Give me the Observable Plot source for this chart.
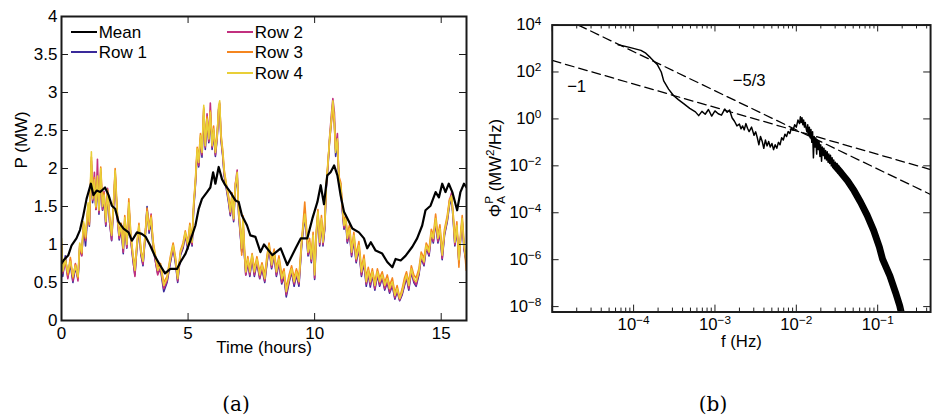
<!DOCTYPE html>
<html><head><meta charset="utf-8">
<script src="https://cdn.jsdelivr.net/npm/d3@7"></script>
<script src="https://cdn.jsdelivr.net/npm/@observablehq/plot@0.6"></script>
<style>
html,body{margin:0;padding:0;background:#fff;overflow:hidden}
#fig{position:relative;width:935px;height:416px;overflow:hidden;font-family:"Liberation Sans",Arial,sans-serif;color:#000}
#a{position:absolute;left:0;top:0}
#b{position:absolute;left:480px;top:0}
.cap{position:absolute;font-family:"DejaVu Serif",serif;font-size:20px;transform:translate(-50%,-50%);white-space:nowrap}
.lg{position:absolute;height:2px;width:26px}
.lt{position:absolute;font-size:17px;line-height:17px;transform:translateY(-50%);white-space:nowrap}
</style></head>
<body><div id="fig"><div id="a"></div><div id="b"></div></div>
<script>
// ---------- Panel (a) data ----------
const hoursTicks = [0, 5, 10, 15];
const powerTicks = [0, 0.5, 1, 1.5, 2, 2.5, 3, 3.5, 4];
const seriesNames = ["Row 1", "Row 2", "Row 3", "Row 4"];
const seriesColors = ["#3a2a9a", "#c2307f", "#f5861f", "#e9cf38"];
const meanName = "Mean";

const time = [
 0,0.05,0.15,0.25,0.35,0.45,0.55,0.65,0.72,0.8, 0.87,0.95,1.05,1.1,1.18,1.23,1.3,1.36,1.42,1.48,
 1.55,1.62,1.68,1.75,1.82,1.9,1.98,2.05,2.12,2.2, 2.28,2.36,2.44,2.5,2.58,2.66,2.74,2.82,2.9,2.98,
 3.06,3.14,3.22,3.3,3.38,3.46,3.54,3.62,3.7,3.8,
 3.91,4.04,4.17,4.30,4.41,4.50,4.59,4.70,4.80,4.89, 4.99,5.07,5.16,5.22,5.29,5.36,5.42,5.49,5.55,5.62,
 5.68,5.75,5.82,5.88,5.95,6.01,6.08,6.15,6.21,6.25, 6.30,6.37,6.43,6.51,6.60,6.67,6.74,6.80,6.87,6.94,
 7.00,7.07,7.12,7.17,7.23,7.28,7.36,7.44,7.53,7.62, 7.72,7.83,7.92,
 8.03,8.12,8.20,8.30,8.40,8.49,8.59,8.70,8.79,8.88, 8.99,9.09,9.19,9.28,9.38,9.48,9.54,9.61,9.67,9.74,
 9.80,9.87,9.94,10.00,10.07,10.13,10.20,10.27,10.33,10.40, 10.46,10.53,10.59,10.66,10.72,10.78,10.83,10.90,10.96,11.03,
 11.09,11.16,11.23,11.29,11.38,11.46,11.55,11.64,11.75,11.85,
 11.95,12.04,12.12,12.20,12.28,12.38,12.48,12.57,12.67,12.77, 12.87,12.96,13.07,13.17,13.26,13.36,13.46,13.55,13.63,13.72,
 13.82,13.92,14.01,14.12,14.21,14.32,14.41,14.52,14.61,14.69, 14.78,14.87,14.95,15.04,15.13,15.24,15.33,15.41,15.48,15.54,
 15.62,15.70,15.77,15.83,15.90,15.99
];
const row1 = [
 0.95,0.58,0.85,0.57,0.74,0.50,0.70,0.55,0.95,0.86, 1.22,0.98,1.48,1.24,2.05,1.55,1.80,1.46,1.84,1.40,
 1.92,1.45,1.60,1.24,1.66,1.30,1.05,1.46,1.90,1.38, 1.06,1.20,0.88,1.30,0.95,1.50,1.06,0.80,0.60,0.96,
 1.20,0.86,0.72,1.06,1.50,1.15,1.30,0.95,0.80,0.62,
 0.68,0.38,0.50,0.76,0.95,0.76,0.50,0.86,0.95,1.12, 0.94,1.20,0.98,1.46,1.78,2.20,2.02,2.38,2.15,2.70,
 2.25,2.60,2.34,2.68,2.25,2.48,2.16,2.40,2.78,2.80, 2.38,2.16,1.90,1.74,1.55,1.38,1.60,1.30,1.74,1.90,
 1.38,1.10,0.90,1.28,0.85,0.60,0.76,0.58,0.82,0.58, 0.76,0.55,0.68,
 0.50,0.76,0.95,0.68,0.86,0.58,0.76,0.48,0.58,0.31, 0.50,0.64,0.45,0.60,0.45,0.95,1.16,1.36,1.16,0.85,
 0.98,0.76,1.08,0.54,1.12,1.40,0.98,1.30,0.98,1.20, 1.74,2.04,2.36,2.62,2.86,2.60,2.16,2.34,1.82,1.74,
 1.46,1.20,1.30,1.02,1.16,0.84,1.06,0.76,0.94,0.58,
 0.76,0.45,0.62,0.44,0.60,0.40,0.60,0.45,0.56,0.40, 0.50,0.36,0.46,0.28,0.38,0.26,0.34,0.46,0.56,0.40,
 0.64,0.50,0.45,0.60,0.82,0.72,0.95,0.85,1.12,1.02, 1.30,1.02,1.16,0.80,1.12,1.30,1.52,1.60,1.30,0.98,
 1.20,0.76,1.08,1.30,0.94,0.76
];
const row2 = [
 1.00,0.62,0.78,0.55,0.80,0.52,0.75,0.52,0.98,0.85, 1.26,1.05,1.50,1.28,2.10,1.58,1.95,1.46,2.12,1.42,
 1.95,1.46,1.70,1.26,1.74,1.30,1.06,1.48,1.95,1.36, 1.08,1.22,0.90,1.32,0.96,1.52,1.04,0.82,0.58,0.98,
 1.22,0.88,0.74,1.08,1.46,1.18,1.40,0.98,0.80,0.60,
 0.70,0.42,0.52,0.78,0.97,0.78,0.52,0.88,0.97,1.14, 0.96,1.22,1.00,1.48,1.80,2.22,2.04,2.40,2.18,2.78,
 2.28,2.72,2.36,2.86,2.28,2.50,2.18,2.42,2.80,2.86, 2.40,2.18,1.92,1.76,1.58,1.40,1.62,1.32,1.80,1.98,
 1.40,1.12,0.92,1.30,0.86,0.60,0.78,0.60,0.84,0.60, 0.78,0.56,0.70,
 0.52,0.78,0.97,0.70,0.88,0.60,0.78,0.50,0.60,0.34, 0.52,0.66,0.48,0.62,0.48,0.97,1.20,1.42,1.18,0.87,
 1.00,0.78,1.10,0.56,1.14,1.42,1.00,1.32,1.00,1.22, 1.76,2.06,2.40,2.70,2.92,2.74,2.26,2.46,1.84,1.80,
 1.48,1.22,1.36,1.04,1.18,0.86,1.08,0.78,0.96,0.60,
 0.78,0.48,0.63,0.47,0.62,0.42,0.62,0.47,0.58,0.42, 0.52,0.38,0.48,0.30,0.40,0.27,0.36,0.48,0.58,0.42,
 0.66,0.52,0.47,0.62,0.84,0.74,0.97,0.87,1.14,1.04, 1.32,1.04,1.18,0.82,1.14,1.32,1.58,1.68,1.32,1.00,
 1.22,0.78,1.10,1.32,0.96,0.78
];
const row3 = [
 1.02,0.66,0.82,0.60,0.83,0.56,0.74,0.56,1.00,0.88, 1.28,1.08,1.52,1.26,2.15,1.62,1.88,1.48,1.86,1.50,
 2.02,1.55,1.68,1.34,1.72,1.38,1.14,1.52,2.00,1.45, 1.15,1.28,0.98,1.38,1.04,1.60,1.12,0.88,0.70,1.02,
 1.28,0.92,0.80,1.12,1.48,1.22,1.38,1.04,0.88,0.70,
 0.75,0.50,0.58,0.84,1.02,0.84,0.58,0.92,1.02,1.18, 1.02,1.28,1.06,1.54,1.85,2.28,2.12,2.46,2.24,2.80,
 2.34,2.68,2.42,2.76,2.34,2.56,2.24,2.46,2.78,2.84, 2.46,2.24,1.98,1.80,1.64,1.46,1.68,1.38,1.80,1.90,
 1.46,1.20,0.86,1.38,0.94,0.68,0.84,0.68,0.88,0.68, 0.84,0.64,0.76,
 0.60,0.86,1.02,0.78,0.94,0.68,0.85,0.60,0.68,0.42, 0.60,0.72,0.56,0.68,0.56,1.04,1.26,1.56,1.26,0.94,
 1.08,0.86,1.16,0.64,1.20,1.46,1.08,1.38,1.08,1.30, 1.80,2.10,2.36,2.60,2.80,2.58,2.24,2.36,1.90,1.82,
 1.56,1.30,1.38,1.12,1.26,0.94,1.16,0.86,1.04,0.68,
 0.86,0.56,0.70,0.56,0.68,0.50,0.68,0.56,0.64,0.50, 0.60,0.46,0.56,0.36,0.46,0.30,0.42,0.56,0.64,0.50,
 0.72,0.60,0.56,0.68,0.90,0.82,1.02,0.94,1.20,1.12, 1.40,1.12,1.26,0.90,1.20,1.38,1.60,1.62,1.38,1.08,
 1.30,0.70,1.16,1.38,1.04,0.66
];
const row4 = [
 1.08,0.65,0.80,0.63,0.78,0.58,0.72,0.58,1.02,0.90, 1.30,1.10,1.55,1.30,2.22,1.60,1.85,1.50,1.90,1.45,
 2.00,1.50,1.65,1.30,1.70,1.35,1.12,1.50,1.97,1.40, 1.12,1.25,0.95,1.35,1.00,1.55,1.10,0.86,0.66,1.00,
 1.25,0.90,0.78,1.10,1.43,1.20,1.35,1.00,0.85,0.66,
 0.73,0.46,0.55,0.81,0.99,0.81,0.55,0.90,0.99,1.16, 0.99,1.25,1.03,1.51,1.82,2.26,2.08,2.43,2.21,2.83,
 2.30,2.65,2.39,2.74,2.30,2.52,2.21,2.43,2.83,2.89, 2.43,2.21,1.95,1.78,1.60,1.43,1.65,1.34,1.78,1.95,
 1.43,1.16,0.95,1.34,0.90,0.64,0.81,0.64,0.86,0.64, 0.81,0.60,0.73,
 0.55,0.81,0.99,0.73,0.90,0.64,0.81,0.55,0.64,0.38, 0.55,0.68,0.51,0.64,0.51,0.99,1.21,1.40,1.21,0.90,
 1.03,0.81,1.12,0.60,1.16,1.43,1.03,1.34,1.03,1.25, 1.78,2.08,2.39,2.65,2.89,2.65,2.21,2.39,1.86,1.78,
 1.51,1.25,1.34,1.08,1.21,0.90,1.12,0.81,0.99,0.64,
 0.81,0.51,0.66,0.51,0.64,0.46,0.64,0.51,0.60,0.46, 0.55,0.42,0.51,0.33,0.42,0.29,0.38,0.51,0.60,0.46,
 0.68,0.55,0.51,0.64,0.86,0.77,0.99,0.90,1.16,1.08, 1.34,1.08,1.21,0.86,1.16,1.34,1.56,1.64,1.34,1.03,
 1.25,0.80,1.12,1.34,0.99,0.81
];
const meanTime = [
 0,0.1,0.27,0.40,0.59,0.73,0.86,0.99,1.16,1.26, 1.39,1.53,1.72,1.86,1.99,2.12,2.25,2.45,2.65,2.78,
 2.98,3.17,3.33,3.50,3.70,3.89,4.09,4.30,4.57,4.70, 4.90,5.09,5.29,5.42,5.55,5.75,5.88,5.99,6.08,6.21,
 6.34,6.47,6.67,6.87,7.00,7.13,7.33,7.46,7.66,7.86, 8.0,8.33,8.66,8.92,9.25,9.45,9.71,9.91,10.11,10.24,
 10.37,10.50,10.63,10.77,10.90,11.03,11.16,11.36,11.49,11.75, 11.95,12.08,12.22,12.41,12.67,12.87,13.07,13.20,13.40,13.59,
 13.86,14.05,14.25,14.38,14.58,14.78,14.91,15.04,15.17,15.30, 15.44,15.63,15.76,15.90,16.0
];
const meanPower = [
 0.75,0.80,0.86,0.99,1.08,1.19,1.38,1.60,1.80,1.65, 1.71,1.69,1.75,1.65,1.51,1.47,1.30,1.21,1.16,1.05,
 1.16,1.14,1.10,0.99,0.84,0.73,0.62,0.68,0.68,0.77, 0.88,1.05,1.25,1.47,1.60,1.69,1.75,1.95,1.80,2.02,
 1.86,1.78,1.69,1.58,1.56,1.38,1.25,1.12,1.10,0.90, 1.0,0.86,0.95,0.73,0.95,1.08,1.08,1.34,1.56,1.78,
 1.53,1.91,1.95,2.04,1.91,1.64,1.43,1.30,1.21,1.16, 1.08,0.95,1.03,0.92,0.88,0.77,0.70,0.81,0.79,0.85,
 0.97,1.08,1.25,1.45,1.51,1.69,1.62,1.80,1.69,1.80, 1.69,1.45,1.69,1.80,1.75
];

// ---------- Panel (b) data (log10 f, log10 PSD) ----------
const freqTickExps = [-4, -3, -2, -1];
const psdTickExps = [-8, -6, -4, -2, 0, 2, 4];
const spectrum = [
 [-4.19,3.16],[-4.05,3.05],[-3.91,2.92],[-3.85,2.80],[-3.79,2.60],[-3.71,2.32],[-3.66,2.00],[-3.63,1.62],[-3.57,1.27],[-3.51,1.00],
 [-3.45,0.82],[-3.385,0.65],[-3.31,0.45],[-3.24,0.30],[-3.20,0.14],[-3.16,0.32],[-3.12,0.20],[-3.08,0.40],[-3.04,0.12],[-3.00,0.34],
 [-2.96,0.22],[-2.92,0.16],[-2.88,0.42],[-2.85,0.28],[-2.82,0.38],[-2.79,0.05],[-2.76,-0.10],[-2.73,-0.30],[-2.70,-0.22],[-2.68,-0.42],
 [-2.66,-0.30],[-2.64,-0.47],[-2.62,-0.20],[-2.60,-0.40],[-2.58,-0.54],[-2.55,-0.35],[-2.52,-0.70],[-2.50,-0.55],[-2.48,-0.80],[-2.46,-1.10],
 [-2.44,-0.75],[-2.42,-0.95],[-2.40,-1.25],[-2.38,-0.90],[-2.36,-1.15],[-2.34,-0.96],[-2.32,-1.20],[-2.30,-1.05],[-2.28,-1.31],[-2.26,-1.10],
 [-2.24,-1.25],[-2.22,-1.00],[-2.20,-1.10],[-2.18,-0.80],[-2.16,-0.90],[-2.14,-0.65],[-2.12,-0.75],[-2.10,-0.54],[-2.08,-0.62],[-2.06,-0.40],
 [-2.04,-0.48],[-2.02,-0.25],[-2.00,-0.35],[-1.98,-0.05],[-1.96,-0.20],[-1.95,0.09],[-1.94,-0.15],[-1.93,0.05],[-1.92,-0.25],[-1.91,-0.05],
 [-1.90,-0.35],[-1.89,-0.15],[-1.88,-0.40],[-1.87,-0.55],[-1.86,-0.25],[-1.85,-0.70],[-1.84,-0.35],[-1.83,-0.80],[-1.82,-0.45],[-1.81,-1.00],
 [-1.80,-0.55],[-1.79,-1.66],[-1.78,-0.75],[-1.77,-1.20],[-1.76,-0.80],[-1.75,-1.50],[-1.74,-0.90],[-1.73,-1.30],[-1.72,-0.96],[-1.71,-1.60],
 [-1.70,-1.10],[-1.69,-1.80],[-1.68,-1.20],[-1.67,-1.55],[-1.66,-1.25],[-1.65,-1.70],[-1.64,-1.35],[-1.63,-1.75],[-1.62,-1.40],[-1.61,-1.85],
 [-1.60,-1.50],[-1.59,-1.90],[-1.58,-1.55],[-1.57,-2.00],[-1.56,-1.65],[-1.55,-2.05],[-1.54,-1.75],[-1.53,-2.10],[-1.52,-1.85],[-1.51,-2.20],
 [-1.50,-1.90],[-1.49,-2.30],[-1.48,-2.00],[-1.47,-2.35],[-1.46,-2.10],[-1.45,-2.45]
];
const spectrumBandNarrow = [
 [-1.86,-0.45],[-1.80,-0.85],[-1.74,-1.15],[-1.66,-1.50],[-1.58,-1.80],[-1.50,-2.10],[-1.45,-2.30]
];
const spectrumBand = [
 [-1.52,-2.02],[-1.45,-2.30],[-1.37,-2.64],
 [-1.29,-3.06],[-1.21,-3.55],[-1.13,-4.10],[-1.05,-4.75],[-0.98,-5.45],[-0.94,-5.98],[-0.85,-6.69],[-0.78,-7.40],
 [-0.73,-7.95],[-0.70,-8.40]
];
const slopeMinus1 = [[-5, 2.49], [-0.35, -2.16]];
const slopeMinus53 = [[-4.68, 4.0], [-0.35, -3.22]];
const slopeLabels = [["−1", -4.70, 1.36], ["−5/3", -2.58, 1.63]];

// ---------- helpers ----------
const rowValues = [row1, row2, row3, row4];
const rowTable = seriesNames.flatMap((name, i) => time.map((t, j) => ({t, p: rowValues[i][j], name})));
const meanTable = meanTime.map((t, j) => ({t, p: meanPower[j]}));
const pw = e => Math.pow(10, e);
const toFP = a => a.map(([lf, lp]) => ({f: pw(lf), p: pw(lp)}));

const font = "'Liberation Sans', Arial, sans-serif";
const ink = "#1a1a1a";

// ---------- Panel (a) ----------
const WA = 480, HA = 380, LA = 61, RA = 14, TA = 16, BA = 60;
const FWA = WA - LA - RA, FHA = HA - TA - BA, TK = 7;
const plotA = Plot.plot({
  width: WA, height: HA, marginLeft: LA, marginRight: RA, marginTop: TA, marginBottom: BA,
  style: {fontFamily: font, fontSize: "17px", color: "#000", background: "#fff", overflow: "visible"},
  x: {domain: [0, 16]},
  y: {domain: [0, 4]},
  color: {domain: seriesNames, range: seriesColors},
  marks: [
    Plot.line(rowTable, {x: "t", y: "p", z: "name", stroke: "name", strokeWidth: 1.6, clip: true}),
    Plot.line(meanTable, {x: "t", y: "p", stroke: "#000", strokeWidth: 2.2, clip: true}),
    Plot.tickX(hoursTicks, {x: d => d, insetTop: FHA - TK, stroke: ink}),
    Plot.tickX(hoursTicks, {x: d => d, insetBottom: FHA - TK, stroke: ink}),
    Plot.tickY(powerTicks, {y: d => d, insetRight: FWA - TK, stroke: ink}),
    Plot.tickY(powerTicks, {y: d => d, insetLeft: FWA - TK, stroke: ink}),
    Plot.frame({stroke: ink, strokeWidth: 2}),
    Plot.axisX(hoursTicks, {tickSize: 0, tickPadding: 6, label: null, tickFormat: d => String(d)}),
    Plot.axisY(powerTicks, {tickSize: 0, tickPadding: 4, label: null, tickFormat: d => String(d)}),
    Plot.text(["Time (hours)"], {frameAnchor: "bottom", dy: 32}),
    Plot.text(["P (MW)"], {frameAnchor: "left", rotate: -90, dx: -40})
  ]
});
document.getElementById("a").appendChild(plotA);

// legend of panel (a)
const fig = document.getElementById("fig");
const legendItems = [{label: meanName, color: "#000", col: 0, row: 0}]
  .concat(seriesNames.map((n, i) => ({label: n, color: seriesColors[i], col: i === 0 ? 0 : 1, row: i === 0 ? 1 : i - 1})));
const colX = [70.7, 226.7], rowY = [32.3, 52.4, 72.5];
legendItems.forEach(it => {
  const l = document.createElement("div");
  l.className = "lg";
  l.style.left = colX[it.col] + "px";
  l.style.top = (rowY[it.row] - 1) + "px";
  l.style.background = it.color;
  fig.appendChild(l);
  const t = document.createElement("div");
  t.className = "lt";
  t.style.left = (colX[it.col] + 28) + "px";
  t.style.top = rowY[it.row] + "px";
  t.textContent = it.label;
  fig.appendChild(t);
});

// ---------- Panel (b) ----------
const WB = 463, HB = 380, LB = 73, RB = 5, TB = 25, BB = 63;
const FWB = WB - LB - RB, FHB = HB - TB - BB;
const xDomainB = [pw(-5), pw(-0.35)];
const majorF = [-5, -4, -3, -2, -1].map(pw);
const minorF = d3.range(-5, 0).flatMap(e => d3.range(2, 10).map(k => k * pw(e))).filter(v => v < xDomainB[1]);
const majorP = psdTickExps.map(pw);
const expFmt = d => "10^" + Math.round(Math.log10(d));

const plotB = Plot.plot({
  width: WB, height: HB, marginLeft: LB, marginRight: RB, marginTop: TB, marginBottom: BB,
  style: {fontFamily: font, fontSize: "17px", color: "#000", background: "#fff", overflow: "visible"},
  x: {type: "log", domain: xDomainB},
  y: {type: "log", domain: [pw(-8.23), pw(4)]},
  marks: [
    Plot.line(toFP(slopeMinus1), {x: "f", y: "p", stroke: "#000", strokeWidth: 1.3, strokeDasharray: "9,5", clip: true}),
    Plot.line(toFP(slopeMinus53), {x: "f", y: "p", stroke: "#000", strokeWidth: 1.3, strokeDasharray: "9,5", clip: true}),
    Plot.line(toFP(spectrumBandNarrow), {x: "f", y: "p", stroke: "#000", strokeWidth: 3.5, clip: true}),
    Plot.line(toFP(spectrumBand), {x: "f", y: "p", stroke: "#000", strokeWidth: 7, clip: true}),
    Plot.line(toFP(spectrum), {x: "f", y: "p", stroke: "#000", strokeWidth: 1.5, clip: true}),
    Plot.tickX(majorF, {x: d => d, insetTop: FHB - TK, stroke: ink}),
    Plot.tickX(majorF, {x: d => d, insetBottom: FHB - TK, stroke: ink}),
    Plot.tickX(minorF, {x: d => d, insetTop: FHB - 4, stroke: ink}),
    Plot.tickX(minorF, {x: d => d, insetBottom: FHB - 4, stroke: ink}),
    Plot.tickY(majorP, {y: d => d, insetRight: FWB - TK, stroke: ink}),
    Plot.tickY(majorP, {y: d => d, insetLeft: FWB - TK, stroke: ink}),
    Plot.frame({stroke: ink, strokeWidth: 2}),
    Plot.axisX(freqTickExps.map(pw), {tickSize: 0, tickPadding: 6, label: null, tickFormat: expFmt}),
    Plot.axisY(majorP, {tickSize: 0, tickPadding: 11, label: null, tickFormat: expFmt}),
    Plot.text(slopeLabels, {x: d => pw(d[1]), y: d => pw(d[2]), text: d => d[0]}),
    Plot.text(["f (Hz)"], {frameAnchor: "bottom", dy: 36})
  ]
});
document.getElementById("b").appendChild(plotB);

// superscript exponents on log tick labels
d3.select(plotB).selectAll('g[aria-label="x-axis tick label"] text, g[aria-label="y-axis tick label"] text').each(function() {
  const s = this.textContent;
  if (s.startsWith("10^")) {
    const e = s.slice(3).replace("-", "−");
    this.textContent = "10";
    d3.select(this).append("tspan").attr("dy", "-0.5em").attr("font-size", "12px").text(e);
  }
});

// y label of panel (b): Φ_A^P (MW²/Hz)
const lab = d3.select(plotB).append("g")
  .attr("transform", `translate(21,${TB + FHB / 2}) rotate(-90)`)
  .append("text").attr("text-anchor", "middle").attr("font-size", 17).attr("fill", "#000")
  .attr("font-family", font);
lab.append("tspan").text("Φ");
lab.append("tspan").attr("font-size", 12).attr("dy", -8).text("P");
lab.append("tspan").attr("font-size", 12).attr("dx", -8).attr("dy", 12).text("A");
lab.append("tspan").attr("dy", -4).text(" (MW");
lab.append("tspan").attr("font-size", 12).attr("dy", -7).text("2");
lab.append("tspan").attr("dy", 7).text("/Hz)");

// captions
[["(a)", 236], ["(b)", 713]].forEach(([s, x]) => {
  const c = document.createElement("div");
  c.className = "cap";
  c.style.left = x + "px";
  c.style.top = "404px";
  c.textContent = s;
  fig.appendChild(c);
});
</script>
</body></html>
